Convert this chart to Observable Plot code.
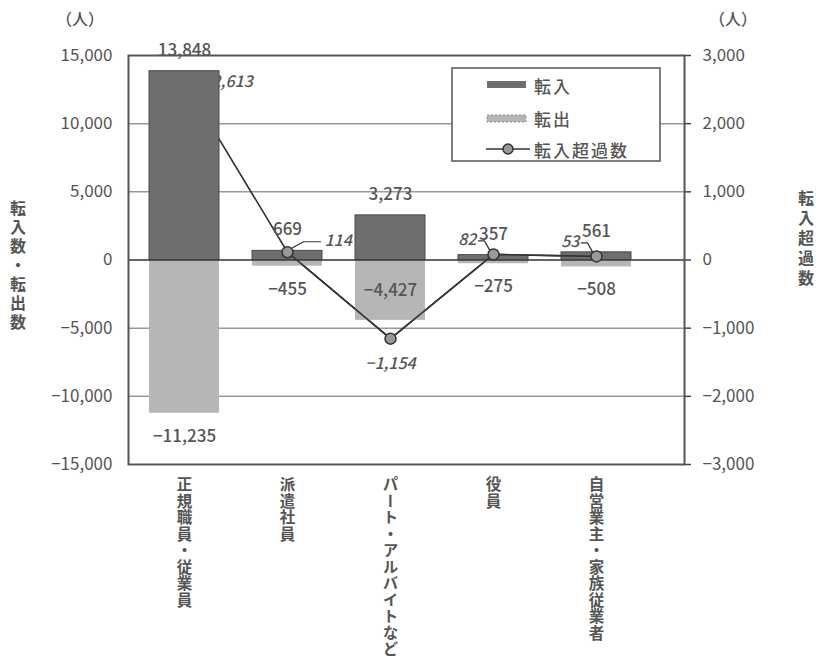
<!DOCTYPE html>
<html><head><meta charset="utf-8">
<script src="https://cdn.jsdelivr.net/npm/d3@7"></script>
<script src="https://cdn.jsdelivr.net/npm/@observablehq/plot@0.6"></script>
<style>
body{margin:0;background:#fff;}
#chart svg{font-family:"Noto Sans CJK JP","Noto Sans",sans-serif;}
</style>
</head><body><div id="chart"></div>
<script>
const categories = ["正規職員・従業員","派遣社員","パート・アルバイトなど","役員","自営業主・家族従業者"];
const inflow = [13848, 669, 3273, 357, 561];
const outflow = [-11235, -455, -4427, -275, -508];
const netInflow = [2613, 114, -1154, 82, 53];
const leftTicks = [-15000,-10000,-5000,0,5000,10000,15000];
const rightTicks = [-3000,-2000,-1000,0,1000,2000,3000];
const seriesNames = ["転入","転出","転入超過数"];
const leftTitle = "転入数・転出数";
const rightTitle = "転入超過数";
const unitLabel = "（人）";

const K = 5; // right axis -> left axis ratio
const fmt = d3.format(",");
const rows = categories.map((c,i)=>({cat:c, idx:i, inflow:inflow[i], outflow:outflow[i], net:netInflow[i], netY:netInflow[i]*K}));
const TXT = "#555";
const labelFont = {fontSize:17, fill:TXT, fontWeight:500};
const netFont = {fontSize:16, fill:TXT, fontWeight:500, fontStyle:"italic"};

const leader = (pts) => ({draw(ctx){ ctx.moveTo(pts[0][0],pts[0][1]); for (const p of pts.slice(1)) ctx.lineTo(p[0],p[1]); }});

const plot = Plot.plot({
  width: 819, height: 661,
  marginTop: 55, marginBottom: 197, marginLeft: 128, marginRight: 135,
  style: {fontFamily:'"Noto Sans CJK JP","Noto Sans",sans-serif', background:"#fff"},
  x: {domain: categories, range: [132.5, 647.5], paddingInner: 0.32, paddingOuter: 0.16, axis: null},
  y: {domain: [-15000, 15000], axis: null},
  marks: [
    Plot.ruleY([-10000,-5000,5000,10000], {stroke:"#999", strokeWidth:1.5}),
    // net line (first segment goes behind first bar)
    Plot.line(rows, {x:"cat", y:"netY", stroke:"#333", strokeWidth:1.6}),
    Plot.text(rows.slice(0,1), {x:"cat", y:"netY", text:d=>fmt(d.net), textAnchor:"start", dx:27, ...netFont}),
    Plot.barY(rows, {x:"cat", y:"inflow", fill:"#6e6e6e", stroke:"#4a4a4a", strokeWidth:1}),
    Plot.barY(rows, {x:"cat", y:"outflow", fill:"#b6b6b6"}),
    Plot.ruleY([0], {stroke:"#333", strokeWidth:1.5}),
    Plot.line(rows.slice(1), {x:"cat", y:"netY", stroke:"#333", strokeWidth:1.6}),
    Plot.dot(rows.slice(1), {x:"cat", y:"netY", r:5.5, fill:"#999", stroke:"#333", strokeWidth:1.5}),
    // value labels
    Plot.text(rows, {x:"cat", y:"inflow", text:d=>fmt(d.inflow), dy:-21, ...labelFont}),
    Plot.text(rows.filter(d=>d.idx!==2), {x:"cat", y:"outflow", text:d=>fmt(d.outflow), ...labelFont, dy: 23}),
    Plot.text(rows.filter(d=>d.idx===2), {x:"cat", y:d=>d.outflow/2, text:d=>fmt(d.outflow), ...labelFont}),
    // net labels
    Plot.text(rows.filter(d=>d.idx===1), {x:"cat", y:"netY", text:d=>fmt(d.net), textAnchor:"start", dx:37, dy:-11, ...netFont}),
    Plot.vector(rows.filter(d=>d.idx===1), {x:"cat", y:"netY", length:1, rotate:0, stroke:"#333", strokeWidth:1.2, shape: leader([[5,-5],[16,-11],[33,-11]])}),
    Plot.text(rows.filter(d=>d.idx===2), {x:"cat", y:"netY", text:d=>fmt(d.net), dy:25, ...netFont}),
    Plot.text(rows.filter(d=>d.idx>=3), {x:"cat", y:"netY", text:d=>fmt(d.net), textAnchor:"end", dx:-17, dy:-15, ...netFont}),
    Plot.vector(rows.filter(d=>d.idx>=3), {x:"cat", y:"netY", length:1, rotate:0, stroke:"#333", strokeWidth:1.2, shape: leader([[-4,-5],[-9,-14],[-15,-14]])}),
    // x labels (made vertical below)
    Plot.text(rows, {x:"cat", frameAnchor:"bottom", dy:12, text:"cat", fontSize:15.5, fontWeight:"bold", fill:TXT, textAnchor:"start"}),
    Plot.frame({stroke:"#555", strokeWidth:2}),
    Plot.axisY(leftTicks, {anchor:"left", tickSize:0, tickPadding:16, tickFormat:fmt, fontSize:17, fill:TXT, label:null}),
    Plot.axisY(rightTicks.map(v=>v*K), {anchor:"right", tickSize:6, tickPadding:12, stroke:"#444", strokeWidth:1.5, tickFormat:d=>fmt(d/K), fontSize:17, fill:TXT, label:null})
  ]
});

const svg = d3.select(plot);
svg.selectAll("text").filter(function(){ return categories.includes(this.textContent); })
  .attr("dy", null)
  .style("writing-mode","vertical-rl")
  .style("dominant-baseline","central")
  .style("letter-spacing","1px");

// titles & units
const t = (x,y,txt,o={}) => svg.append("text").attr("x",x).attr("y",y).text(txt)
  .attr("fill",TXT).attr("font-size",o.size||16).attr("font-weight",o.weight||500)
  .attr("text-anchor",o.anchor||"middle").attr("dominant-baseline","central")
  .style("letter-spacing",o.ls||null)
  .style("writing-mode",o.vertical?"vertical-rl":null);
t(80,18,unitLabel);
t(733,18,unitLabel);
t(18,200,leftTitle,{vertical:true,anchor:"start",size:16,weight:"bold",ls:"3px"});
t(806,190,rightTitle,{vertical:true,anchor:"start",size:16,weight:"bold",ls:"4px"});

// legend
const lg = svg.append("g");
lg.append("rect").attr("x",452).attr("y",68).attr("width",208).attr("height",93).attr("fill","#fff").attr("stroke","#555").attr("stroke-width",1.5);
lg.append("rect").attr("x",487).attr("y",81).attr("width",39).attr("height",7).attr("fill","#6e6e6e");
lg.append("rect").attr("x",487).attr("y",115).attr("width",39).attr("height",7).attr("fill","#b6b6b6").attr("stroke","#888").attr("stroke-dasharray","2,2");
lg.append("line").attr("x1",486).attr("x2",530).attr("y1",149).attr("y2",149).attr("stroke","#333").attr("stroke-width",1.6);
lg.append("circle").attr("cx",508).attr("cy",149).attr("r",5).attr("fill","#999").attr("stroke","#333").attr("stroke-width",1.5);
[[seriesNames[0],85],[seriesNames[1],118],[seriesNames[2],149]].forEach(([s,y])=>{
  lg.append("text").attr("x",534).attr("y",y).text(s).attr("fill",TXT).attr("font-size",17).attr("font-weight",500)
    .attr("text-anchor","start").attr("dominant-baseline","central").style("letter-spacing","2px");
});

document.getElementById("chart").appendChild(plot);
</script>
</body></html>
